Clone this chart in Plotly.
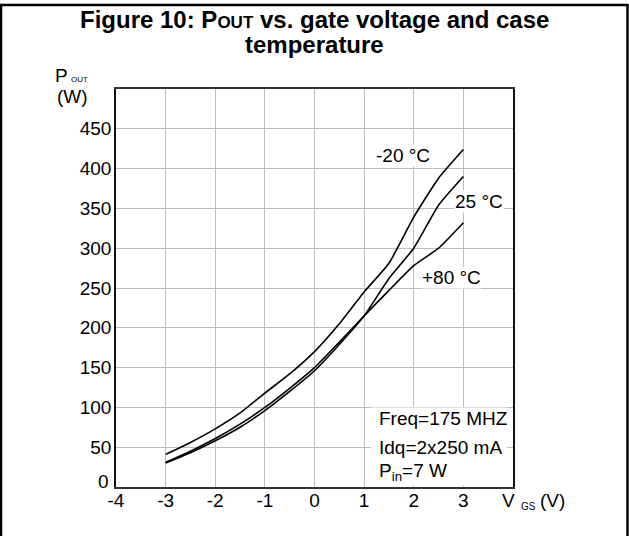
import plotly.graph_objects as go

vgs = [-3, -2.5, -2, -1.5, -1, -0.5, 0, 0.5, 1, 1.5, 2, 2.5, 3]
p_m20 = [41, 56, 73, 93, 118, 142, 170, 205, 245, 281, 339, 388, 424]
p_25 = [30, 43, 58, 75, 96, 120, 146, 179, 215, 262, 300, 354, 390]
p_80 = [31, 45, 61, 79, 100, 124, 150, 182, 215, 247, 278, 300, 332]

x_ticks = [-4, -3, -2, -1, 0, 1, 2, 3]
y_ticks = [0, 50, 100, 150, 200, 250, 300, 350, 400, 450]

W, H = 629, 536
L, R, T, B = 116, 513, 89, 487


def px(x):
    return (x - L) / (R - L)


def py(y):
    return (B - y) / (B - T)


FONT = "Liberation Sans, Arial, sans-serif"

fig = go.Figure()
for ys in (p_m20, p_25, p_80):
    fig.add_trace(go.Scatter(x=vgs, y=ys, mode="lines",
                             line=dict(color="black", width=1.6, shape="spline", smoothing=0.5),
                             showlegend=False, hoverinfo="skip"))

fig.update_layout(
    width=W, height=H,
    margin=dict(l=L, r=W - R, t=T, b=H - B),
    paper_bgcolor="white", plot_bgcolor="white",
    font=dict(family=FONT, color="black", size=19),
    showlegend=False,
)
fig.update_xaxes(range=[-4, 4], tickvals=x_ticks, ticktext=[str(v) for v in x_ticks],
                 showgrid=True, gridcolor="#bdbdbd", gridwidth=1.2,
                 showline=True, linecolor="#333333", linewidth=1.5, mirror=True,
                 zeroline=False, ticks="outside", ticklen=0, ticklabelstandoff=-5,
                 tickfont=dict(size=19, family=FONT))
# the "0" label sits a little above its gridline in the reference: drawn as an annotation
y_axis_ticks = [v for v in y_ticks if v != 0]
fig.update_yaxes(range=[0, 500], tickvals=y_axis_ticks, ticktext=[str(v) for v in y_axis_ticks],
                 showgrid=True, gridcolor="#bdbdbd", gridwidth=1.2,
                 showline=True, linecolor="#111111", linewidth=1.5, mirror=True,
                 zeroline=False, ticks="outside", ticklen=0, ticklabelstandoff=-1,
                 tickfont=dict(size=19, family=FONT))

ann = []


def add(text, x, y, size=19, xanchor="center", yanchor="middle", bg=None, bold=False):
    d = dict(text=f"<b>{text}</b>" if bold else text, x=px(x), y=py(y),
             xref="paper", yref="paper", showarrow=False,
             xanchor=xanchor, yanchor=yanchor, align="left",
             font=dict(size=size, family=FONT, color="black"))
    if bg:
        d["bgcolor"] = bg
        d["borderpad"] = 0
    ann.append(d)


# title (two lines)
add("Figure 10: P<span style='font-size:17px'>OUT</span> vs. gate voltage and case", 314, 20, size=24, bold=True)
add("temperature", 314, 44, size=24, bold=True)
# axis titles
add("P", 62, 76)
add("OUT", 79, 79, size=8)
add("(W)", 72, 97)
add(str(y_ticks[0]), 111, 481, xanchor="right")
add("V", 508, 500)
add("GS", 528, 506, size=10)
add("(V)", 552, 500)
# curve labels
add("-20 °C", 403, 155, bg="white")
add("25 °C", 479, 201, bg="white")
add("+80 °C", 451, 277, bg="white")
# conditions
add("Freq=175 MHZ", 377, 418, xanchor="left")
add("Idq=2x250 mA", 377, 447, xanchor="left")
add("P<sub>in</sub>=7 W", 377, 472, xanchor="left")

fig.update_layout(annotations=ann)

# white panel behind the conditions text
fig.add_shape(type="rect", xref="paper", yref="paper",
              x0=px(371), x1=px(507), y0=py(485.5), y1=py(407.5),
              line=dict(width=0), fillcolor="white", layer="above")

fig.add_shape(type="rect", xref="paper", yref="paper",
              x0=px(1), x1=px(627.5), y0=py(545), y1=py(5),
              line=dict(color="black", width=2.5), fillcolor="rgba(0,0,0,0)", layer="above")

fig.write_html("out.html", config={"displayModeBar": False},
               post_script="document.body.style.margin='0px';document.body.style.overflow='hidden';")
